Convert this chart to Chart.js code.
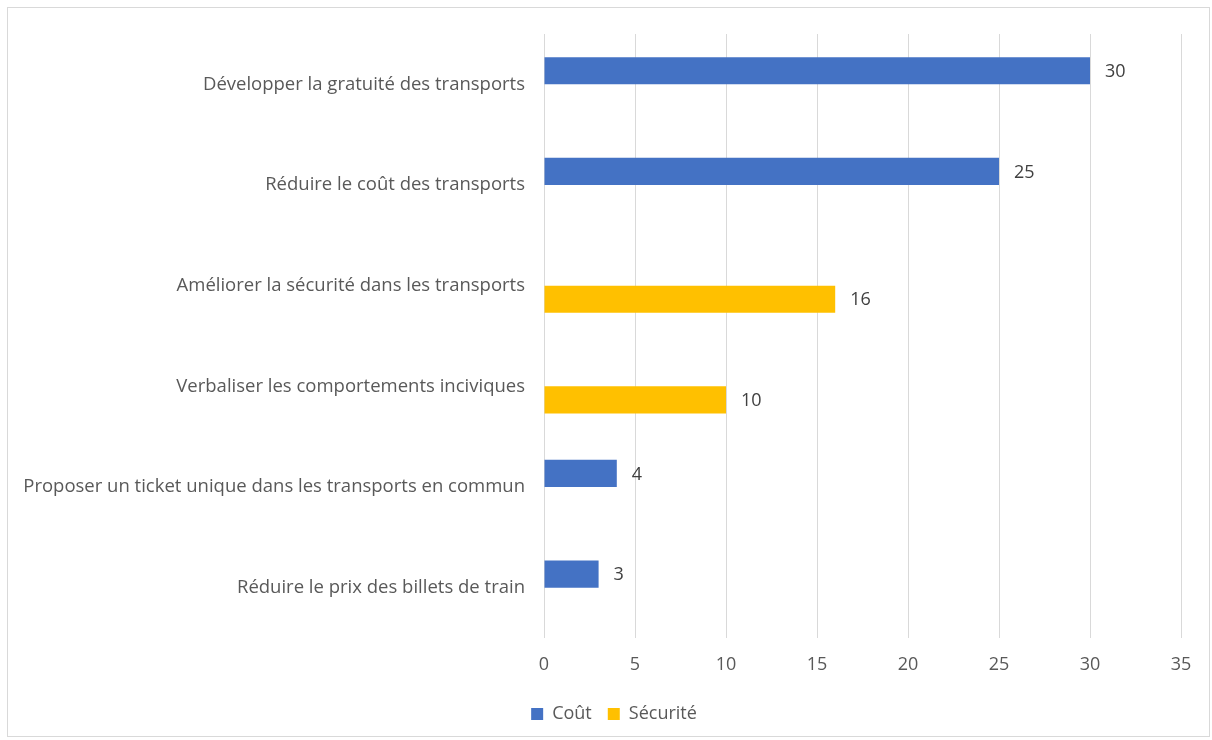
<!DOCTYPE html>
<html>
<head>
<meta charset="utf-8">
<script src="https://cdn.jsdelivr.net/npm/chart.js@4/dist/chart.umd.min.js"></script>
<style>
  body { margin: 0; background: #fff; }
  #wrap { position: absolute; left: 0; top: 0; width: 1212px; height: 740px; }
  #frame { position: absolute; left: 7px; top: 7px; width: 1203px; height: 730px;
           border: 1px solid #d9d9d9; box-sizing: border-box; pointer-events: none; }
</style>
</head>
<body>
<div id="wrap"><canvas id="c" width="1212" height="740"></canvas></div>
<div id="frame"></div>
<script>
const categories = [
  'Développer la gratuité des transports',
  'Réduire le coût des transports',
  'Améliorer la sécurité dans les transports',
  'Verbaliser les comportements inciviques',
  'Proposer un ticket unique dans les transports en commun',
  'Réduire le prix des billets de train'
];
const coutValues = [30, 25, null, null, 4, 3];
const securiteValues = [null, null, 16, 10, null, null];
const xTicks = [0, 5, 10, 15, 20, 25, 30, 35];

const font = "'Open Sans', sans-serif";

// value labels to the right of each bar
const valueLabels = {
  id: 'valueLabels',
  afterDatasetsDraw(chart) {
    const ctx = chart.ctx;
    ctx.save();
    ctx.font = '18px ' + font;
    ctx.fillStyle = '#404040';
    ctx.textAlign = 'left';
    ctx.textBaseline = 'middle';
    chart.data.datasets.forEach((ds, i) => {
      chart.getDatasetMeta(i).data.forEach((bar, j) => {
        if (ds.data[j] == null) return;
        ctx.fillText(ds.data[j], bar.x + 15, bar.y + 1);
      });
    });
    ctx.restore();
  }
};

// legend sits a bit right of the canvas centre
const legendShift = {
  id: 'legendShift',
  afterLayout(chart) {
    chart.legend.left += 47;
    chart.legend.width -= 47;
  }
};

new Chart(document.getElementById('c'), {
  type: 'bar',
  data: {
    labels: categories,
    datasets: [
      { label: 'Coût', data: coutValues, backgroundColor: '#4472C4' },
      { label: 'Sécurité', data: securiteValues, backgroundColor: '#FFC000' }
    ]
  },
  options: {
    indexAxis: 'y',
    responsive: false,
    animation: false,
    categoryPercentage: 0.54,
    barPercentage: 1,
    layout: { padding: { top: 34, right: 31, left: 0, bottom: 7 } },
    scales: {
      x: {
        min: 0,
        max: 35,
        afterBuildTicks(scale) { scale.ticks = xTicks.map(v => ({ value: v })); },
        afterFit(scale) { scale.height = 51; },
        grid: { color: '#d9d9d9', drawTicks: false },
        border: { display: false },
        ticks: { padding: 16, color: '#595959', font: { family: font, size: 18 } }
      },
      y: {
        afterFit(scale) { scale.width = 544; },
        grid: { display: false, drawTicks: false },
        border: { display: false },
        ticks: { padding: 19, color: '#595959', font: { family: font, size: 18.5 } }
      }
    },
    plugins: {
      legend: {
        position: 'bottom',
        labels: {
          boxWidth: 12,
          boxHeight: 12,
          padding: 16,
          color: '#595959',
          font: { family: font, size: 18 }
        }
      },
      tooltip: { enabled: false }
    }
  },
  plugins: [valueLabels, legendShift]
});
</script>
</body>
</html>
